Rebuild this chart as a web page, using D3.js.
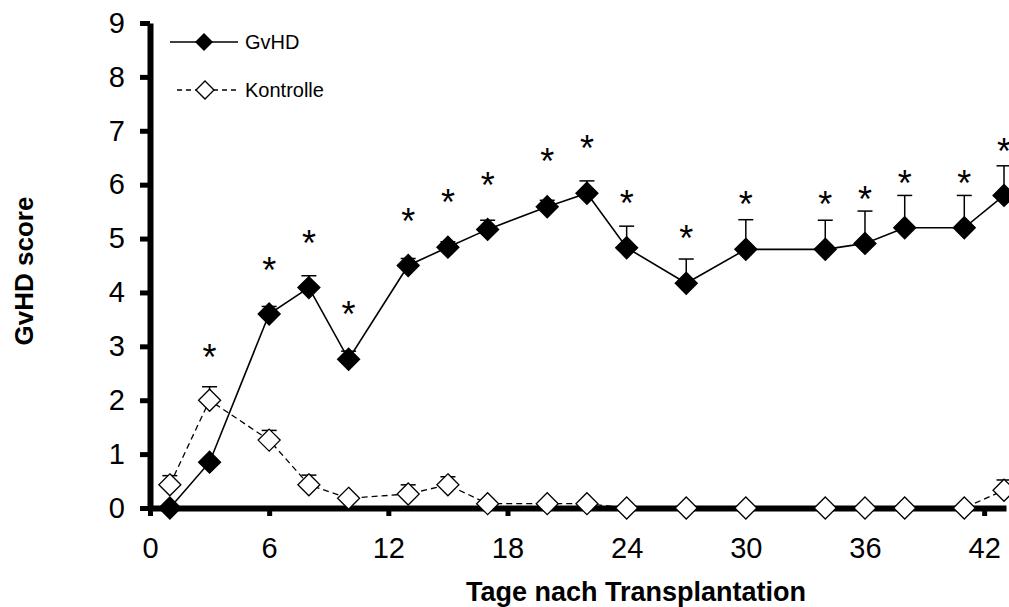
<!DOCTYPE html>
<html>
<head>
<meta charset="utf-8">
<script src="https://cdn.jsdelivr.net/npm/d3@7"></script>
<style>
  body { margin: 0; background: #fff; }
  svg { display: block; font-family: Arial, "Liberation Sans", sans-serif; }
</style>
</head>
<body>
<div id="chart"></div>
<script>
// days after transplantation, mean score, upper error
const days = [1, 3, 6, 8, 10, 13, 15, 17, 20, 22, 24, 27, 30, 34, 36, 38, 41, 43];
const gvhdScore = [0, 0.85, 3.6, 4.09, 2.76, 4.5, 4.84, 5.17, 5.59, 5.84, 4.83, 4.17, 4.8, 4.8, 4.91, 5.2, 5.2, 5.8];
const gvhdError = [0, 0.05, 0.14, 0.22, 0.15, 0.13, 0.1, 0.17, 0.12, 0.23, 0.4, 0.45, 0.55, 0.54, 0.6, 0.6, 0.6, 0.55];
const kontrolleScore = [0.43, 2.0, 1.26, 0.43, 0.18, 0.26, 0.43, 0.08, 0.08, 0.08, 0, 0, 0, 0, 0, 0, 0, 0.33];
const kontrolleError = [0.17, 0.25, 0.18, 0.18, 0, 0.17, 0.15, 0, 0, 0, 0, 0, 0, 0, 0, 0, 0, 0.19];
// height (score units) of the significance asterisks, null = none
const starLevel = [null, 2.95, 4.57, 5.06, 3.74, 5.47, 5.83, 6.14, 6.58, 6.82, 5.81, 5.16, 5.78, 5.79, 5.88, 6.18, 6.18, 6.77];
const xTicks = [0, 6, 12, 18, 24, 30, 36, 42];
const yTicks = [0, 1, 2, 3, 4, 5, 6, 7, 8, 9];

const width = 1009;
const height = 607;

const x = d3.scaleLinear().domain([0, 43.1]).range([150, 1006]);
const y = d3.scaleLinear().domain([0, 9]).range([508, 23]);

const diamond = (r) => `M0,${-r}L${r},0L0,${r}L${-r},0Z`;

const svg = d3.select("#chart")
  .append("svg")
  .attr("width", width)
  .attr("height", height);

// axes
const yAxis = svg.append("g")
  .attr("transform", `translate(${x(0)},0)`)
  .call(d3.axisLeft(y).tickValues(yTicks).tickSize(10).tickSizeOuter(0).tickPadding(15));

const xAxis = svg.append("g")
  .attr("transform", `translate(0,${y(0)})`)
  .call(d3.axisBottom(x).tickValues(xTicks).tickSize(8).tickSizeOuter(0).tickPadding(21));

[yAxis, xAxis].forEach((g) => {
  g.select(".domain").attr("stroke", "#000").attr("stroke-width", 6);
  g.selectAll(".tick line").attr("stroke", "#000").attr("stroke-width", 5);
  g.selectAll(".tick text")
    .attr("fill", "#000")
    .attr("font-size", 29)
    .attr("font-family", "Arial, 'Liberation Sans', sans-serif");
});

// axis titles
svg.append("text")
  .attr("transform", `translate(33,271) rotate(-90)`)
  .attr("text-anchor", "middle")
  .attr("font-weight", "bold")
  .attr("font-size", 26)
  .text("GvHD score");

svg.append("text")
  .attr("x", 636)
  .attr("y", 601)
  .attr("text-anchor", "middle")
  .attr("font-weight", "bold")
  .attr("font-size", 27)
  .text("Tage nach Transplantation");

const series = [
  { name: "Kontrolle", values: kontrolleScore, errors: kontrolleError, fill: "#fff", dash: "6,4", width: 1.3 },
  { name: "GvHD", values: gvhdScore, errors: gvhdError, fill: "#000", dash: null, width: 1.6 }
];

const line = d3.line()
  .x((d) => x(d[0]))
  .y((d) => y(d[1]));

series.forEach((s) => {
  const pts = days.map((d, i) => [d, s.values[i], s.errors[i]]);
  const g = svg.append("g");

  g.append("path")
    .datum(pts)
    .attr("fill", "none")
    .attr("stroke", "#000")
    .attr("stroke-width", s.width)
    .attr("stroke-dasharray", s.dash)
    .attr("d", line);

  // upper error bars
  const err = g.selectAll(".err")
    .data(pts.filter((p) => p[2] > 0))
    .join("g")
    .attr("stroke", "#000")
    .attr("stroke-width", 1.5);
  err.append("line")
    .attr("x1", (p) => x(p[0])).attr("x2", (p) => x(p[0]))
    .attr("y1", (p) => y(p[1])).attr("y2", (p) => y(p[1] + p[2]));
  err.append("line")
    .attr("x1", (p) => x(p[0]) - 7.5).attr("x2", (p) => x(p[0]) + 7.5)
    .attr("y1", (p) => y(p[1] + p[2])).attr("y2", (p) => y(p[1] + p[2]));

  g.selectAll(".marker")
    .data(pts)
    .join("path")
    .attr("transform", (p) => `translate(${x(p[0])},${y(p[1])})`)
    .attr("d", diamond(11))
    .attr("fill", s.fill)
    .attr("stroke", "#000")
    .attr("stroke-width", 1.3);
});

// significance asterisks
svg.append("g")
  .selectAll("text")
  .data(days.map((d, i) => [d, starLevel[i]]).filter((p) => p[1] !== null))
  .join("text")
  .attr("x", (p) => x(p[0]))
  .attr("y", (p) => y(p[1]))
  .attr("dy", "0.58em")
  .attr("text-anchor", "middle")
  .attr("font-size", 36)
  .text("*");

// legend
const legend = svg.append("g");
legend.append("line")
  .attr("x1", 170).attr("x2", 238).attr("y1", 42).attr("y2", 42)
  .attr("stroke", "#000").attr("stroke-width", 1.6);
legend.append("path")
  .attr("transform", "translate(204,42)")
  .attr("d", diamond(9))
  .attr("fill", "#000");
legend.append("text")
  .attr("x", 245).attr("y", 42).attr("dy", "0.35em")
  .attr("font-size", 20)
  .text("GvHD");

legend.append("line")
  .attr("x1", 177).attr("x2", 238).attr("y1", 90).attr("y2", 90)
  .attr("stroke", "#000").attr("stroke-width", 1.4)
  .attr("stroke-dasharray", "5,4");
legend.append("path")
  .attr("transform", "translate(205,90)")
  .attr("d", diamond(9))
  .attr("fill", "#fff")
  .attr("stroke", "#000")
  .attr("stroke-width", 1.4);
legend.append("text")
  .attr("x", 245).attr("y", 90).attr("dy", "0.35em")
  .attr("font-size", 20)
  .text("Kontrolle");
</script>
</body>
</html>
